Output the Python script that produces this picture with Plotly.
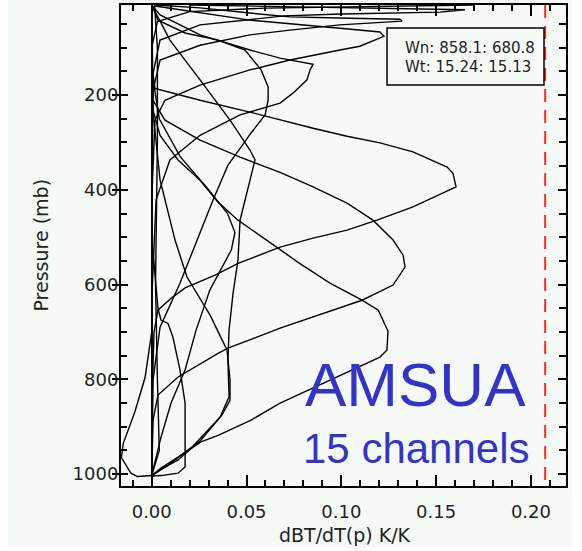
import plotly.graph_objects as go

# ---- data: weighting functions (dBT/dT(p), K/K) vs pressure (mb) ----
p_a = [10, 42, 150, 186, 211, 236, 253, 270, 287, 301, 320, 352, 365, 394, 436, 464, 485, 502, 521, 555, 580, 607, 629, 654, 700, 800, 900, 1003]
x_a = [0.0, 0.0002, 0.0005, 0.0017, 0.0255, 0.0518, 0.0677, 0.0851, 0.1030, 0.1204, 0.1378, 0.1558, 0.1589, 0.1605, 0.1378, 0.1188, 0.1030, 0.0851, 0.0677, 0.0456, 0.0334, 0.0176, 0.0102, 0.0033, 0.0012, 0.0005, 0.0002, 0.0]

p_b = [10, 84, 211, 253, 295, 331, 363, 394, 428, 464, 506, 538, 563, 601, 633, 692, 734, 745, 795, 833, 886, 1003]
x_b = [0.0, 0.0, 0.0007, 0.0070, 0.0255, 0.0466, 0.0677, 0.0851, 0.1030, 0.1167, 0.1273, 0.1326, 0.1336, 0.1273, 0.1109, 0.0677, 0.0402, 0.0350, 0.0139, 0.0033, 0.0007, 0.0]

p_c = [10, 126, 232, 285, 337, 380, 426, 464, 523, 553, 597, 633, 654, 698, 738, 753, 850, 886, 918, 932, 964, 987, 1003]
x_c = [0.0, 0.0, 0.0007, 0.0044, 0.0139, 0.0255, 0.0350, 0.0455, 0.0666, 0.0772, 0.0940, 0.1109, 0.1195, 0.1246, 0.1241, 0.1204, 0.0677, 0.0524, 0.0350, 0.0260, 0.0139, 0.0049, 0.0]

p_d = [12, 42, 59, 67, 76, 97, 105, 126, 147, 179, 211, 253, 421, 1003]
x_d = [0.0017, 0.0518, 0.0993, 0.1204, 0.1225, 0.1098, 0.0993, 0.0729, 0.0518, 0.0255, 0.0070, 0.0017, 0.0, 0.0]

p_e = [10, 31, 73, 105, 122, 135, 147, 168, 196, 217, 242, 285, 337, 421, 633, 1003]
x_e = [0.0, 0.0044, 0.0255, 0.0518, 0.0677, 0.0851, 0.0835, 0.0819, 0.0745, 0.0677, 0.0466, 0.0255, 0.0096, 0.0023, 0.0, 0.0]

p_f = [10, 42, 69, 84, 105, 147, 183, 211, 242, 280, 310, 348, 422, 597, 690, 801, 1003]
x_f = [0.0, 0.0033, 0.0176, 0.0350, 0.0492, 0.0577, 0.0614, 0.0614, 0.0598, 0.0524, 0.0471, 0.0402, 0.0323, 0.0149, 0.0044, 0.0007, 0.0]

p_g = [10, 16, 27, 35, 38, 40, 44, 52, 63, 73, 95, 126, 190, 421, 1003]
x_g = [0.002, 0.0255, 0.0518, 0.0729, 0.1046, 0.1310, 0.1320, 0.0993, 0.0729, 0.0518, 0.0255, 0.0044, 0.0007, 0.0, 0.0]

p_h = [10, 13, 16, 20, 25, 29, 33, 52, 84, 168, 1003]
x_h = [0.02, 0.06, 0.10, 0.1652, 0.1520, 0.10, 0.07, 0.0255, 0.0044, 0.0, 0.0]

p_i = [10, 13, 16.5, 24, 45, 100, 1003]
x_i = [0.17, 0.12, 0.06, 0.02, 0.003, 0.0, 0.0]

p_j = [10, 84, 168, 253, 316, 337, 422, 464, 548, 618, 696, 759, 837, 880, 940, 980, 1003]
x_j = [0.0, 0.0096, 0.0255, 0.0413, 0.0518, 0.0545, 0.0492, 0.0466, 0.0455, 0.0429, 0.0408, 0.0402, 0.0408, 0.0360, 0.0220, 0.0090, 0.0]

p_k = [10, 210, 379, 506, 584, 664, 738, 801, 844, 875, 928, 970, 990, 1003]
x_k = [0.0, 0.0, 0.0044, 0.0123, 0.0186, 0.0307, 0.0397, 0.0413, 0.0413, 0.0371, 0.0260, 0.0139, 0.0049, 0.0]

p_l = [10, 150, 250, 330, 400, 450, 490, 527, 611, 696, 780, 850, 922, 1002]
x_l = [0.0, 0.0, 0.004, 0.015, 0.030, 0.040, 0.0439, 0.0420, 0.0307, 0.0234, 0.0176, 0.0102, 0.0049, 0.0]

p_m = [10, 500, 650, 675, 682, 711, 780, 850, 985, 998, 1003, 1004]
x_m = [0.0, 0.0, 0.0033, 0.0049, 0.0086, 0.0112, 0.0149, 0.0176, 0.0176, 0.0139, 0.005, 0.0]

p_n = [10, 700, 796, 870, 935, 965, 998, 1005, 1003]
x_n = [0.0, 0.0, -0.0035, -0.009, -0.015, -0.016, -0.011, -0.0075, 0.0]

p_o = [10, 100, 300, 600, 800, 950, 1003]
x_o = [0.0015, 0.003, 0.003, 0.002, 0.003, 0.004, 0.0]

channels = [(x_a, p_a), (x_b, p_b), (x_c, p_c), (x_d, p_d), (x_e, p_e), (x_f, p_f),
            (x_g, p_g), (x_h, p_h), (x_i, p_i), (x_j, p_j), (x_k, p_k), (x_l, p_l),
            (x_m, p_m), (x_n, p_n), (x_o, p_o)]

ref_x = 0.2075
ref_p = [10, 1025]

x_ticks = [0.0, 0.05, 0.10, 0.15, 0.20]
x_labels = ["0.00", "0.05", "0.10", "0.15", "0.20"]
y_ticks = [200, 400, 600, 800, 1000]

x_title = "dBT/dT(p) K/K"
y_title = "Pressure (mb)"
box_lines = ["Wn: 858.1: 680.8", "Wt: 15.24: 15.13"]

XR = [-0.0162, 0.2185]
YR = [1025, 10]
BG = "#f5faf6"

fig = go.Figure()
for i, (xs, ps) in enumerate(channels):
    fig.add_trace(go.Scatter(x=xs, y=ps, mode="lines",
                             line=dict(color="black", width=1.4),
                             yaxis="y3" if i == len(channels) - 1 else "y",
                             showlegend=False, hoverinfo="skip"))
fig.add_trace(go.Scatter(x=[ref_x, ref_x], y=ref_p, mode="lines", yaxis="y2",
                         line=dict(color="#ff2b2b", width=2, dash="13px,8px"),
                         showlegend=False, hoverinfo="skip"))

tickfont = dict(family="DejaVu Sans", size=18, color="#222")
titlefont = dict(family="DejaVu Sans", size=19, color="#222")
fig.update_layout(
    width=582, height=551,
    margin=dict(l=121, r=16, t=5, b=65, autoexpand=False),
    paper_bgcolor="white", plot_bgcolor=BG,
    xaxis=dict(range=XR, tickvals=x_ticks, ticktext=x_labels, ticks="inside", ticklen=11,
               tickwidth=1.5, tickcolor="black", showline=True, linecolor="black", linewidth=2,
               mirror="ticks", showgrid=False, zeroline=False, tickfont=tickfont,
               ticklabelstandoff=8, automargin=False,
               minor=dict(ticks="inside", ticklen=6, dtick=0.01, tick0=0, tickwidth=1.5,
                          tickcolor="black", showgrid=False)),
    yaxis=dict(range=YR, tickvals=y_ticks, ticks="outside", ticklen=7, tickwidth=1.5,
               tickcolor="black", showline=True, linecolor="black", linewidth=2, mirror=True,
               showgrid=False, zeroline=False, tickfont=tickfont, automargin=False,
               ticklabelstandoff=-10),
    yaxis2=dict(range=YR, overlaying="y", side="right", tickvals=y_ticks, ticks="inside",
                ticklen=8, tickwidth=1.5, tickcolor="black", showticklabels=False,
                showline=False, showgrid=False, zeroline=False, automargin=False,
                minor=dict(ticks="inside", ticklen=7, dtick=50, tick0=0, tickwidth=1.5,
                           tickcolor="black", showgrid=False)),
    yaxis3=dict(range=YR, overlaying="y", side="left", tickvals=y_ticks, ticks="inside",
                ticklen=7, tickwidth=1.5, tickcolor="black", showticklabels=False,
                showline=False, showgrid=False, zeroline=False, automargin=False,
                minor=dict(ticks="inside", ticklen=6, dtick=50, tick0=0, tickwidth=1.5,
                           tickcolor="black", showgrid=False)),
    shapes=[
        dict(type="rect", xref="paper", yref="paper", x0=-0.254, x1=1.0135, y0=-0.129, y1=1.0104,
             fillcolor=BG, line=dict(width=0), layer="below"),
        dict(type="rect", xref="paper", yref="paper", x0=0.5978, x1=0.9506, y0=0.8337, y1=0.9522,
             fillcolor=BG, line=dict(color="black", width=1.5), layer="above"),
    ],
    annotations=[
        dict(text=x_title, xref="paper", yref="paper", x=0.503, y=-0.102, xanchor="center",
             yanchor="middle", showarrow=False, font=titlefont),
        dict(text=y_title, xref="paper", yref="paper", x=-0.182, y=0.50, xanchor="center",
             yanchor="middle", textangle=-90, showarrow=False, font=titlefont),
        dict(text=box_lines[0], xref="paper", yref="paper", x=0.6337, y=0.9096, xanchor="left",
             yanchor="middle", showarrow=False, font=dict(family="DejaVu Sans", size=15, color="#222")),
        dict(text=box_lines[1], xref="paper", yref="paper", x=0.6337, y=0.8721, xanchor="left",
             yanchor="middle", showarrow=False, font=dict(family="DejaVu Sans", size=15, color="#222")),
        dict(text="AMSUA", xref="paper", yref="paper", x=0.661, y=0.21, xanchor="center",
             yanchor="middle", showarrow=False, font=dict(family="Liberation Sans", size=62, color="#3333cc")),
        dict(text="15 channels", xref="paper", yref="paper", x=0.663, y=0.079, xanchor="center",
             yanchor="middle", showarrow=False, font=dict(family="Liberation Sans", size=42, color="#3333cc")),
    ],
)

fig.write_html("out.html", config={"displayModeBar": False},
               post_script="document.body.style.margin='0';document.body.style.overflow='hidden';")
